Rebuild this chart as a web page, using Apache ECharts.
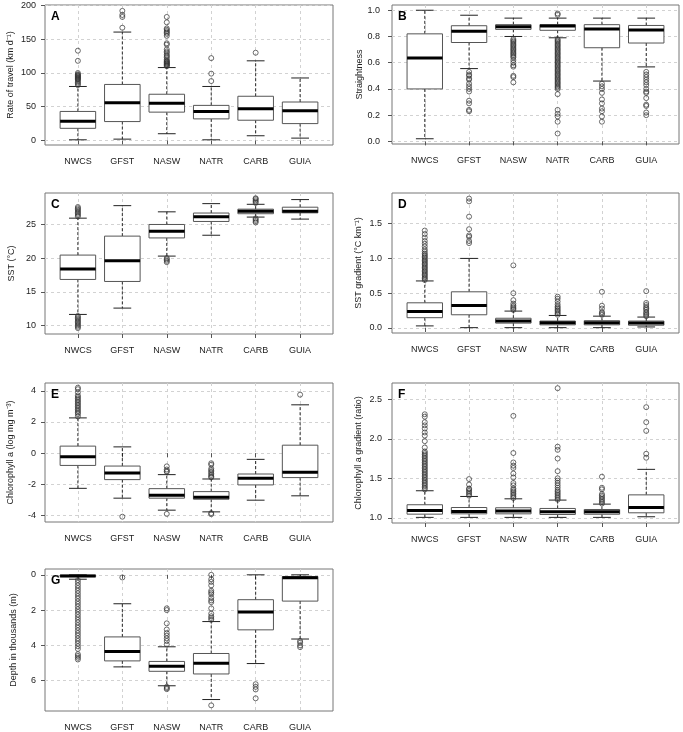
<!DOCTYPE html>
<html>
<head>
<meta charset="utf-8">
<script src="https://cdn.jsdelivr.net/npm/echarts@6/dist/echarts.min.js"></script>
<style>html,body{margin:0;padding:0;background:#fff}#c{width:683px;height:732px}</style>
</head>
<body>
<div id="c"></div>
<script>
// ---------- DATA ----------
const categories = ['NWCS', 'GFST', 'NASW', 'NATR', 'CARB', 'GUIA'];

// stats per category: [lower whisker, Q1, median, Q3, upper whisker]
const rateStats = [[1, 18, 28.6, 43, 80], [2, 28, 56, 83, 160.6], [10, 42, 55, 68.5, 108], [1, 32, 43, 52, 80], [7, 30, 47, 65.5, 118], [3.5, 25, 44, 57, 92.6]];
const rateOut = [
  [82, 84, 86, 88, 90, 91, 92, 93, 94, 95, 96, 97, 98, 100, 118, 133],
  [167, 183, 186, 192],
  [110, 111, 112, 113, 114, 115, 116, 117, 118, 120, 123, 125, 127, 130, 132, 135, 142, 144, 155, 158, 160, 162, 164, 166, 175, 183],
  [88, 99, 122],
  [130],
  []
];
const rateTicks = [0, 50, 100, 150, 200];

const straightStats = [[0.02, 0.40, 0.636, 0.82, 1.0], [0.555, 0.754, 0.84, 0.882, 0.962], [0.80, 0.854, 0.874, 0.89, 0.94], [0.79, 0.847, 0.879, 0.89, 0.94], [0.46, 0.714, 0.857, 0.89, 0.94], [0.568, 0.75, 0.85, 0.884, 0.94]];
const straightOut = [
  [],
  [0.53, 0.51, 0.50, 0.48, 0.47, 0.44, 0.42, 0.40, 0.38, 0.31, 0.29, 0.24, 0.23],
  [0.78, 0.77, 0.76, 0.75, 0.74, 0.73, 0.72, 0.71, 0.70, 0.69, 0.68, 0.67, 0.66, 0.65, 0.64, 0.62, 0.60, 0.58, 0.57, 0.50, 0.49, 0.45],
  [0.975, 0.965, 0.78, 0.77, 0.76, 0.75, 0.74, 0.73, 0.72, 0.71, 0.70, 0.69, 0.68, 0.67, 0.66, 0.65, 0.64, 0.63, 0.62, 0.61, 0.60, 0.59, 0.58, 0.57, 0.56, 0.55, 0.54, 0.53, 0.52, 0.51, 0.50, 0.49, 0.48, 0.47, 0.46, 0.45, 0.44, 0.43, 0.42, 0.41, 0.40, 0.36, 0.24, 0.21, 0.19, 0.15, 0.06],
  [0.44, 0.42, 0.40, 0.37, 0.32, 0.29, 0.25, 0.23, 0.19, 0.15],
  [0.53, 0.51, 0.49, 0.47, 0.45, 0.43, 0.40, 0.38, 0.37, 0.33, 0.28, 0.27, 0.22, 0.20]
];
const straightTicks = [0, 0.2, 0.4, 0.6, 0.8, 1.0];

const sstStats = [[11.63, 16.83, 18.37, 20.45, 25.94], [12.57, 16.53, 19.6, 23.27, 27.8], [20.3, 23.0, 24.0, 25.0, 26.88], [23.4, 25.45, 26.14, 26.7, 28.1], [26.1, 26.6, 26.98, 27.28, 28.0], [25.8, 26.73, 26.98, 27.57, 28.7]];
const sstOut = [
  [26.2, 26.4, 26.6, 26.8, 27.0, 27.2, 27.4, 27.6, 11.4, 11.2, 11.0, 10.8, 10.6, 10.4, 10.2, 10.0, 9.8, 9.6],
  [],
  [20.0, 19.8, 19.6, 19.4],
  [],
  [28.2, 28.4, 28.6, 28.8, 28.9, 25.9, 25.7, 25.5, 25.3],
  []
];
const sstTicks = [10, 15, 20, 25];

const sstGradStats = [[0.03, 0.148, 0.238, 0.362, 0.676], [0.005, 0.19, 0.324, 0.52, 1.0], [0.005, 0.07, 0.10, 0.14, 0.243], [0.005, 0.045, 0.075, 0.10, 0.18], [0.005, 0.045, 0.075, 0.105, 0.17], [0.015, 0.04, 0.07, 0.10, 0.157]];
const sstGradOut = [
  [0.69, 0.71, 0.73, 0.75, 0.77, 0.79, 0.81, 0.83, 0.85, 0.87, 0.89, 0.91, 0.93, 0.95, 0.97, 0.99, 1.01, 1.03, 1.05, 1.07, 1.10, 1.13, 1.17, 1.21, 1.25, 1.30, 1.35, 1.40],
  [1.22, 1.25, 1.31, 1.33, 1.42, 1.60, 1.82, 1.86],
  [0.26, 0.28, 0.30, 0.32, 0.35, 0.40, 0.50, 0.90],
  [0.19, 0.21, 0.23, 0.25, 0.27, 0.29, 0.31, 0.34, 0.38, 0.42, 0.45],
  [0.19, 0.21, 0.23, 0.28, 0.32, 0.52],
  [0.17, 0.19, 0.21, 0.23, 0.26, 0.28, 0.30, 0.33, 0.36, 0.53]
];
const sstGradTicks = [0, 0.5, 1.0, 1.5];

const chlStats = [[-2.26, -0.79, -0.23, 0.45, 2.26], [-2.89, -1.70, -1.28, -0.83, 0.40], [-3.66, -2.89, -2.70, -2.28, -1.38], [-3.77, -2.96, -2.83, -2.47, -1.66], [-3.02, -2.04, -1.62, -1.34, -0.40], [-2.74, -1.57, -1.23, 0.51, 3.1]];
const chlOut = [
  [2.35, 2.5, 2.6, 2.7, 2.8, 2.9, 3.0, 3.1, 3.2, 3.3, 3.4, 3.5, 3.6, 3.7, 3.9, 4.1, 4.2],
  [-4.08],
  [-0.85, -1.05, -1.15, -1.2, -3.9],
  [-0.65, -0.75, -1.0, -1.1, -1.2, -1.3, -1.4, -1.5, -1.55, -3.85, -3.92],
  [],
  [3.75]
];
const chlTicks = [-4, -2, 0, 2, 4];

const chlGradStats = [[1.005, 1.046, 1.093, 1.165, 1.342], [1.005, 1.05, 1.08, 1.13, 1.27], [1.005, 1.05, 1.085, 1.127, 1.24], [1.005, 1.042, 1.076, 1.118, 1.224], [1.005, 1.045, 1.076, 1.105, 1.173], [1.013, 1.063, 1.13, 1.29, 1.613]];
const chlGradOut = [
  [1.36, 1.38, 1.40, 1.42, 1.44, 1.46, 1.48, 1.50, 1.52, 1.54, 1.56, 1.58, 1.60, 1.62, 1.64, 1.66, 1.68, 1.70, 1.72, 1.74, 1.76, 1.78, 1.80, 1.82, 1.84, 1.89, 1.97, 2.04, 2.08, 2.13, 2.17, 2.21, 2.28, 2.31],
  [1.28, 1.30, 1.32, 1.34, 1.36, 1.37, 1.42, 1.49],
  [1.25, 1.27, 1.29, 1.31, 1.33, 1.35, 1.37, 1.41, 1.44, 1.51, 1.56, 1.63, 1.66, 1.70, 1.82, 2.29],
  [1.23, 1.25, 1.27, 1.29, 1.31, 1.33, 1.35, 1.38, 1.41, 1.44, 1.47, 1.50, 1.59, 1.75, 1.86, 1.90, 2.64],
  [1.18, 1.20, 1.22, 1.24, 1.26, 1.28, 1.30, 1.36, 1.38, 1.52],
  [1.76, 1.81, 2.10, 2.21, 2.40]
];
const chlGradTicks = [1.0, 1.5, 2.0, 2.5];

const depthStats = [[0, 0.02, 0.06, 0.1, 0.25], [1.64, 3.52, 4.34, 4.88, 5.22], [4.08, 4.91, 5.18, 5.47, 6.29], [2.65, 4.46, 5.01, 5.62, 7.07], [0.0, 1.41, 2.11, 3.12, 5.03], [0.0, 0.1, 0.17, 1.49, 3.64]];
const depthOut = [
  [0.3, 0.45, 0.6, 0.75, 0.9, 1.05, 1.2, 1.35, 1.5, 1.65, 1.8, 1.95, 2.1, 2.25, 2.4, 2.55, 2.7, 2.85, 3.0, 3.15, 3.3, 3.45, 3.6, 3.75, 3.9, 4.05, 4.2, 4.5, 4.6, 4.7, 4.8],
  [0.15],
  [1.9, 2.0, 2.75, 3.1, 3.3, 3.45, 3.6, 3.75, 3.95, 6.35, 6.42, 6.48],
  [0.0, 0.25, 0.4, 0.6, 0.9, 1.0, 1.1, 1.3, 1.45, 1.55, 1.9, 2.2, 2.35, 2.45, 2.55, 7.4],
  [6.2, 6.35, 6.5, 7.0],
  [3.75, 3.85, 4.0, 4.1]
];
const depthTicks = [0, 2, 4, 6];

// ---------- LAYOUT ----------
const FONT = 'Liberation Sans';
const panels = [
  {letter: 'A', stats: rateStats, out: rateOut, ticks: rateTicks, min: -6.7, max: 200.7, dec: 0, name: 'Rate of travel (km d\u207B\u00B9)', grid: {left: 45, top: 5, width: 288, height: 140}, gap: 30, lm: 9},
  {letter: 'B', stats: straightStats, out: straightOut, ticks: straightTicks, min: -0.02, max: 1.04, dec: 1, name: 'Straightness', grid: {left: 392, top: 5, width: 287, height: 139}, gap: 28, lm: 12},
  {letter: 'C', stats: sstStats, out: sstOut, ticks: sstTicks, min: 8.72, max: 29.68, dec: 0, name: 'SST (\u00B0C)', grid: {left: 45, top: 193, width: 288, height: 141}, gap: 29, lm: 9},
  {letter: 'D', stats: sstGradStats, out: sstGradOut, ticks: sstGradTicks, min: -0.072, max: 1.94, dec: 1, name: 'SST gradient (\u00B0C km\u207B\u00B9)', grid: {left: 392, top: 193, width: 287, height: 140}, gap: 29, lm: 10},
  {letter: 'E', stats: chlStats, out: chlOut, ticks: chlTicks, min: -4.42, max: 4.5, dec: 0, name: 'Chlorophyll a (log mg m\u207B\u00B3)', grid: {left: 45, top: 383, width: 288, height: 139}, gap: 30, lm: 9},
  {letter: 'F', stats: chlGradStats, out: chlGradOut, ticks: chlGradTicks, min: 0.934, max: 2.706, dec: 1, name: 'Chlorophyll a gradient (ratio)', grid: {left: 392, top: 383, width: 287, height: 140}, gap: 29, lm: 10},
  {letter: 'G', stats: depthStats, out: depthOut, ticks: depthTicks, min: -0.33, max: 7.72, dec: 0, inverse: true, name: 'Depth in thousands (m)', grid: {left: 45, top: 569, width: 288, height: 142}, gap: 27, lm: 9}
];

const catPos = categories.map((c, i) => i + 1);

function renderBox(params, api) {
  const x = api.value(0);
  const lo = api.value(1), q1 = api.value(2), md = api.value(3), q3 = api.value(4), hi = api.value(5);
  const cx = api.coord([x, md])[0];
  const xL = api.coord([x - 0.4, md])[0];
  const xR = api.coord([x + 0.4, md])[0];
  const cL = api.coord([x - 0.2, md])[0];
  const cR = api.coord([x + 0.2, md])[0];
  const yLo = api.coord([x, lo])[1], yQ1 = api.coord([x, q1])[1], yMd = api.coord([x, md])[1], yQ3 = api.coord([x, q3])[1], yHi = api.coord([x, hi])[1];
  const dash = {stroke: '#111', lineWidth: 0.9, lineDash: [3, 2]};
  const solid = {stroke: '#222', lineWidth: 1};
  return {
    type: 'group',
    children: [
      {type: 'line', shape: {x1: cx, y1: yQ3, x2: cx, y2: yHi}, style: dash},
      {type: 'line', shape: {x1: cx, y1: yQ1, x2: cx, y2: yLo}, style: dash},
      {type: 'line', shape: {x1: cL, y1: yHi, x2: cR, y2: yHi}, style: solid},
      {type: 'line', shape: {x1: cL, y1: yLo, x2: cR, y2: yLo}, style: solid},
      {type: 'rect', shape: {x: xL, y: Math.min(yQ1, yQ3), width: xR - xL, height: Math.max(0.5, Math.abs(yQ1 - yQ3))}, style: {fill: '#fff', stroke: '#555', lineWidth: 1}},
      {type: 'line', shape: {x1: xL, y1: yMd, x2: xR, y2: yMd}, style: {stroke: '#000', lineWidth: 3}}
    ]
  };
}

const option = {
  animation: false,
  backgroundColor: '#fff',
  textStyle: {fontFamily: FONT},
  grid: [], xAxis: [], yAxis: [], series: [], title: []
};

panels.forEach((p, i) => {
  option.grid.push(Object.assign({show: true, borderColor: '#777', borderWidth: 1, backgroundColor: 'transparent', containLabel: false}, p.grid));
  option.xAxis.push({
    type: 'value', gridIndex: i, min: 0.26, max: 6.74,
    axisLine: {show: false},
    axisTick: {show: true, customValues: catPos, length: 4, inside: false, lineStyle: {color: '#555'}},
    axisLabel: {show: true, customValues: catPos, margin: 12, fontSize: 9, color: '#222', fontFamily: FONT, formatter: v => categories[Math.round(v) - 1] || ''},
    splitLine: {show: true, lineStyle: {color: '#d2d2d2', type: [3, 3], width: 1}}
  });
  option.yAxis.push({
    type: 'value', gridIndex: i, min: p.min, max: p.max, inverse: !!p.inverse,
    name: p.name, nameLocation: 'middle', nameGap: p.gap, nameRotate: 90,
    nameTextStyle: {fontSize: 9, color: '#222', fontFamily: FONT},
    axisLine: {show: false},
    axisTick: {show: true, customValues: p.ticks, length: 4, lineStyle: {color: '#555'}},
    axisLabel: {show: true, customValues: p.ticks, margin: p.lm, fontSize: 9, color: '#222', fontFamily: FONT, formatter: v => Number(v).toFixed(p.dec)},
    splitLine: {show: true, lineStyle: {color: '#d2d2d2', type: [3, 3], width: 1}}
  });
  option.series.push({
    type: 'custom', xAxisIndex: i, yAxisIndex: i,
    renderItem: renderBox,
    encode: {x: 0, y: [1, 2, 3, 4, 5]},
    data: p.stats.map((s, k) => [k + 1].concat(s)),
    z: 3
  });
  const pts = [];
  p.out.forEach((arr, k) => arr.forEach(v => pts.push([k + 1, v])));
  option.series.push({
    type: 'scatter', xAxisIndex: i, yAxisIndex: i,
    data: pts, symbol: 'circle', symbolSize: 5,
    itemStyle: {color: 'rgba(255,255,255,0)', borderColor: '#333', borderWidth: 0.9},
    z: 4
  });
  option.title.push({
    text: p.letter, left: p.grid.left + 6, top: p.grid.top + 6,
    textStyle: {fontSize: 12, fontWeight: 'bold', color: '#000', fontFamily: FONT},
    padding: 0
  });
});

const chart = echarts.init(document.getElementById('c'), null, {renderer: 'canvas'});
chart.setOption(option);
</script>
</body>
</html>
